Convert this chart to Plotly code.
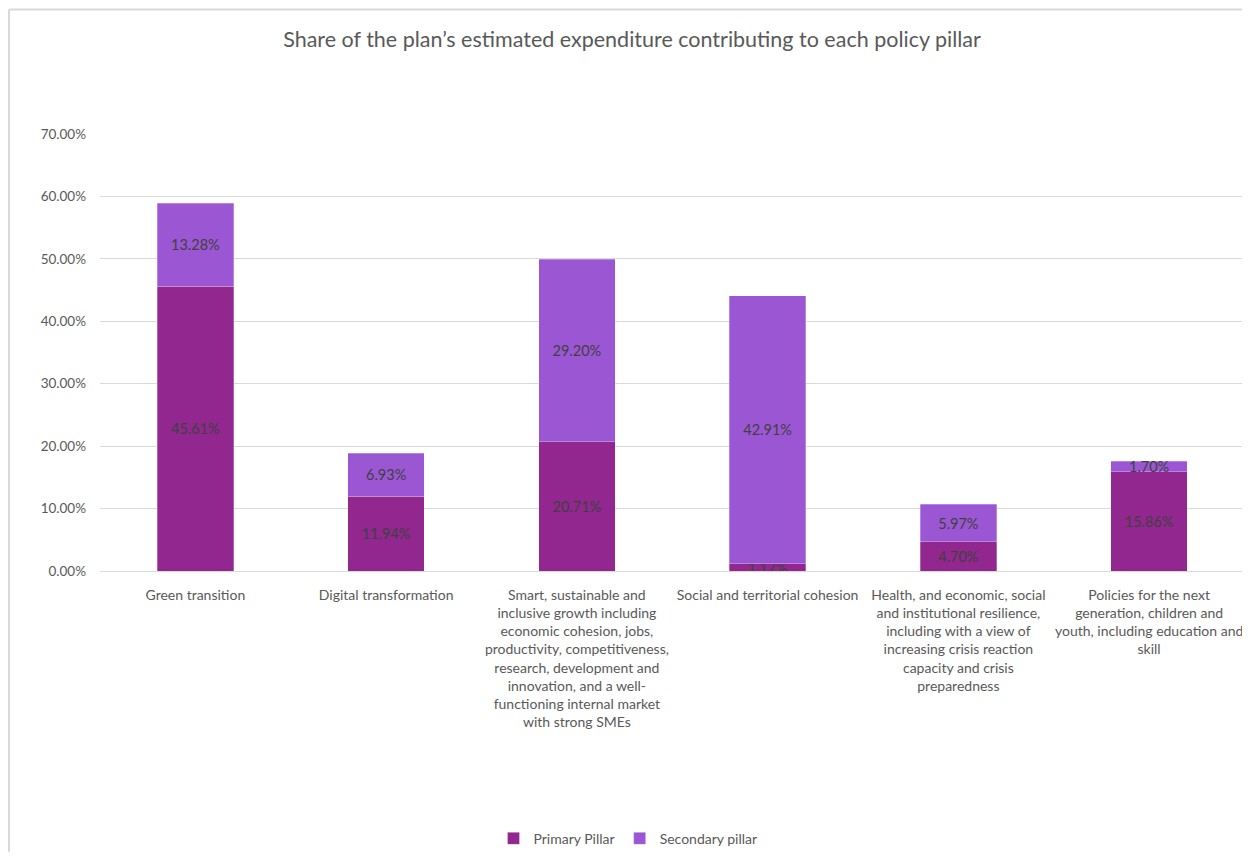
import plotly.graph_objects as go

categories = [
    "Green transition",
    "Digital transformation",
    "Smart, sustainable and<br>inclusive growth including<br>economic cohesion, jobs,<br>productivity, competitiveness,<br>research, development and<br>innovation, and a well-<br>functioning internal market<br>with strong SMEs",
    "Social and territorial cohesion",
    "Health, and economic, social<br>and institutional resilience,<br>including with a view of<br>increasing crisis reaction<br>capacity and crisis<br>preparedness",
    "Policies for the next<br>generation, children and<br>youth, including education and<br>skill",
]
primary_pillar = [45.61, 11.94, 20.71, 1.17, 4.70, 15.86]
secondary_pillar = [13.28, 6.93, 29.20, 42.91, 5.97, 1.70]
y_ticks = [0, 10, 20, 30, 40, 50, 60, 70]
y_tick_labels = [f"{v:.2f}%" for v in y_ticks]

FONT = "Lato"
GREY = "#595959"
W, H = 1234, 847
L, R, T, B = 92, 0, 126, 282
PW, PH = W - L - R, H - T - B

fig = go.Figure()
for name, vals, col in [("Primary Pillar", primary_pillar, "#92278F"),
                        ("Secondary pillar", secondary_pillar, "#9B57D3")]:
    fig.add_trace(go.Bar(
        x=categories, y=vals, name=name,
        marker=dict(color=col, line=dict(color="rgba(255,255,255,0.35)", width=0.8)),
        texttemplate="%{y:.2f}%", textposition="inside", insidetextanchor="middle",
        textfont=dict(color="#404040", size=14.5, family=FONT),
    ))

fig.update_layout(
    barmode="stack",
    bargap=0.6,
    width=W, height=H,
    margin=dict(l=L, r=R, t=T, b=B),
    paper_bgcolor="white", plot_bgcolor="white",
    font=dict(family=FONT, color=GREY, size=13),
    title=dict(text="Share of the plan\u2019s estimated expenditure contributing to each policy pillar",
               x=(632 - 8) / W, xanchor="center", y=1 - 31 / H, yanchor="middle",
               font=dict(size=21.5, color=GREY, family=FONT)),
    uniformtext=dict(minsize=14.5, mode="show"),
    legend=dict(orientation="h", x=(620 - L) / PW, xanchor="center",
                y=(T + PH - 834) / PH, yanchor="middle",
                font=dict(size=14, color=GREY, family=FONT), traceorder="normal",
                itemwidth=30),
    showlegend=True,
)
fig.update_yaxes(range=[0, 70], tickvals=y_ticks, ticktext=y_tick_labels,
                 showgrid=True, gridcolor="#d9d9d9", gridwidth=1, zeroline=False,
                 showline=False, ticks="", ticklabelstandoff=13,
                 tickfont=dict(size=13.5, color=GREY, family=FONT))
fig.update_xaxes(range=[-0.5, 5.487], showline=True, linecolor="#d9d9d9", linewidth=1, ticks="",
                 tickangle=0, ticklabelstandoff=11,
                 tickfont=dict(size=14, color=GREY, family=FONT))

# outer chart frame (top and left edges as in the reference)
fy = (T + PH - 1) / PH
fx = (1 - L) / PW
fig.add_shape(type="line", xref="paper", yref="paper", x0=fx, x1=(W - L) / PW, y0=fy, y1=fy,
              line=dict(color="#d9d9d9", width=2))
fig.add_shape(type="line", xref="paper", yref="paper", x0=fx, x1=fx, y0=fy, y1=-B / PH,
              line=dict(color="#d9d9d9", width=2))

fig.write_html("out.html")
